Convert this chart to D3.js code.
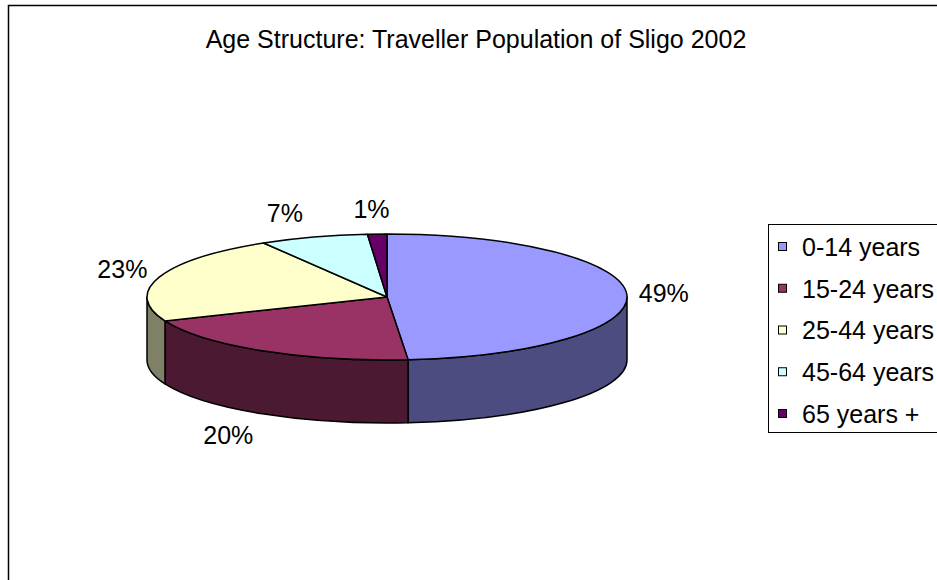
<!DOCTYPE html>
<html>

<head>
    <title>Age Structure: Traveller Population of Sligo 2002</title>
    <script src="https://d3js.org/d3.v7.min.js"></script>
    <style>
        body { margin: 0; background: #fff; }
        text { font-family: "Liberation Sans", Arial, sans-serif; fill: #000; }
    </style>
</head>

<body>
    <script>
        // data (shares in %)
        const categories = ['0-14 years', '15-24 years', '25-44 years', '45-64 years', '65 years +']
        const shares = [48.6, 20.2, 22.6, 7.3, 1.3]
        const topColors = ['#9999FF', '#993366', '#FFFFCC', '#CCFFFF', '#660066']
        const sideColors = ['#4C4C80', '#4C1933', '#808066', '#668080', '#330033']

        const msm = {
            width: 937,
            height: 580
        }

        // pie geometry (ellipse seen from above + thickness)
        const pie3d = { cx: 387, cy: 297, rx: 240, ry: 63, depth: 63 }

        let svg = d3.select('body')
            .append('svg')
            .attr('width', msm.width)
            .attr('height', msm.height)

        // chart border
        svg.append('rect')
            .attr('x', 8.5)
            .attr('y', 5.5)
            .attr('width', 1000)
            .attr('height', 700)
            .attr('fill', 'none')
            .attr('stroke', '#000')
            .attr('stroke-width', 1.5)

        svg.append('text')
            .attr('x', 476)
            .attr('y', 48)
            .attr('text-anchor', 'middle')
            .style('font-size', '25px')
            .text('Age Structure: Traveller Population of Sligo 2002')

        let data = categories.map((c, i) => ({ name: c, value: shares[i], top: topColors[i], side: sideColors[i] }))

        let arcs = d3.pie()
            .sort(null)
            .value(d => d.value)(data)

        // angle from 12 o'clock, clockwise -> point on the ellipse
        function pt(a, dy) {
            return [pie3d.cx + pie3d.rx * Math.sin(a), pie3d.cy - pie3d.ry * Math.cos(a) + (dy || 0)]
        }

        function topPath(d) {
            let p0 = pt(d.startAngle), p1 = pt(d.endAngle)
            let large = (d.endAngle - d.startAngle) > Math.PI ? 1 : 0
            return 'M' + pie3d.cx + ',' + pie3d.cy +
                'L' + p0 + 'A' + pie3d.rx + ',' + pie3d.ry + ' 0 ' + large + ' 1 ' + p1 + 'Z'
        }

        // outer wall, only the part facing the viewer (PI/2 .. 3PI/2)
        function sidePath(d) {
            let a0 = Math.max(d.startAngle, Math.PI / 2)
            let a1 = Math.min(d.endAngle, 3 * Math.PI / 2)
            if (a1 <= a0) return null
            let p0 = pt(a0), p1 = pt(a1)
            let q1 = pt(a1, pie3d.depth), q0 = pt(a0, pie3d.depth)
            return 'M' + p0 + 'A' + pie3d.rx + ',' + pie3d.ry + ' 0 0 1 ' + p1 +
                'L' + q1 + 'A' + pie3d.rx + ',' + pie3d.ry + ' 0 0 0 ' + q0 + 'Z'
        }

        svg.append('g')
            .selectAll('path')
            .data(arcs.filter(d => sidePath(d)))
            .enter()
            .append('path')
            .attr('d', sidePath)
            .attr('fill', d => d.data.side)
            .attr('stroke', '#000')
            .attr('stroke-width', 1.5)
            .attr('stroke-linejoin', 'round')

        svg.append('g')
            .selectAll('path')
            .data(arcs)
            .enter()
            .append('path')
            .attr('d', topPath)
            .attr('fill', d => d.data.top)
            .attr('stroke', '#000')
            .attr('stroke-width', 1.5)
            .attr('stroke-linejoin', 'round')

        // percentage labels outside the pie
        function labelPos(d) {
            let a = (d.startAngle + d.endAngle) / 2
            let p = pt(a)
            let dx = p[0] - pie3d.cx, dy = p[1] - pie3d.cy
            let len = Math.sqrt(dx * dx + dy * dy)
            let front = Math.cos(a) < 0 ? pie3d.depth : 0
            return [p[0] + 37 * dx / len, p[1] + front - 25 * Math.cos(a)]
        }

        svg.append('g')
            .selectAll('text')
            .data(arcs)
            .enter()
            .append('text')
            .attr('x', d => labelPos(d)[0])
            .attr('y', d => labelPos(d)[1])
            .attr('dy', '0.35em')
            .attr('text-anchor', 'middle')
            .style('font-size', '25px')
            .text(d => d3.format('.0f')(d.data.value) + '%')

        // legend
        let legend = svg.append('g')

        legend.append('rect')
            .attr('x', 768.5)
            .attr('y', 224.5)
            .attr('width', 300)
            .attr('height', 208)
            .attr('fill', '#fff')
            .attr('stroke', '#000')
            .attr('stroke-width', 1)

        let rowY = d3.scalePoint()
            .domain(categories)
            .range([247, 414])

        let rows = legend.selectAll('g.row')
            .data(data)
            .enter()
            .append('g')
            .attr('class', 'row')
            .attr('transform', d => 'translate(0,' + rowY(d.name) + ')')

        rows.append('rect')
            .attr('x', 778.5)
            .attr('y', -4.5)
            .attr('width', 8)
            .attr('height', 8)
            .attr('fill', d => d.top)
            .attr('stroke', '#000')
            .attr('stroke-width', 1)

        rows.append('text')
            .attr('x', 802)
            .attr('dy', '0.35em')
            .style('font-size', '25px')
            .text(d => d.name)
    </script>
</body>
</html>
